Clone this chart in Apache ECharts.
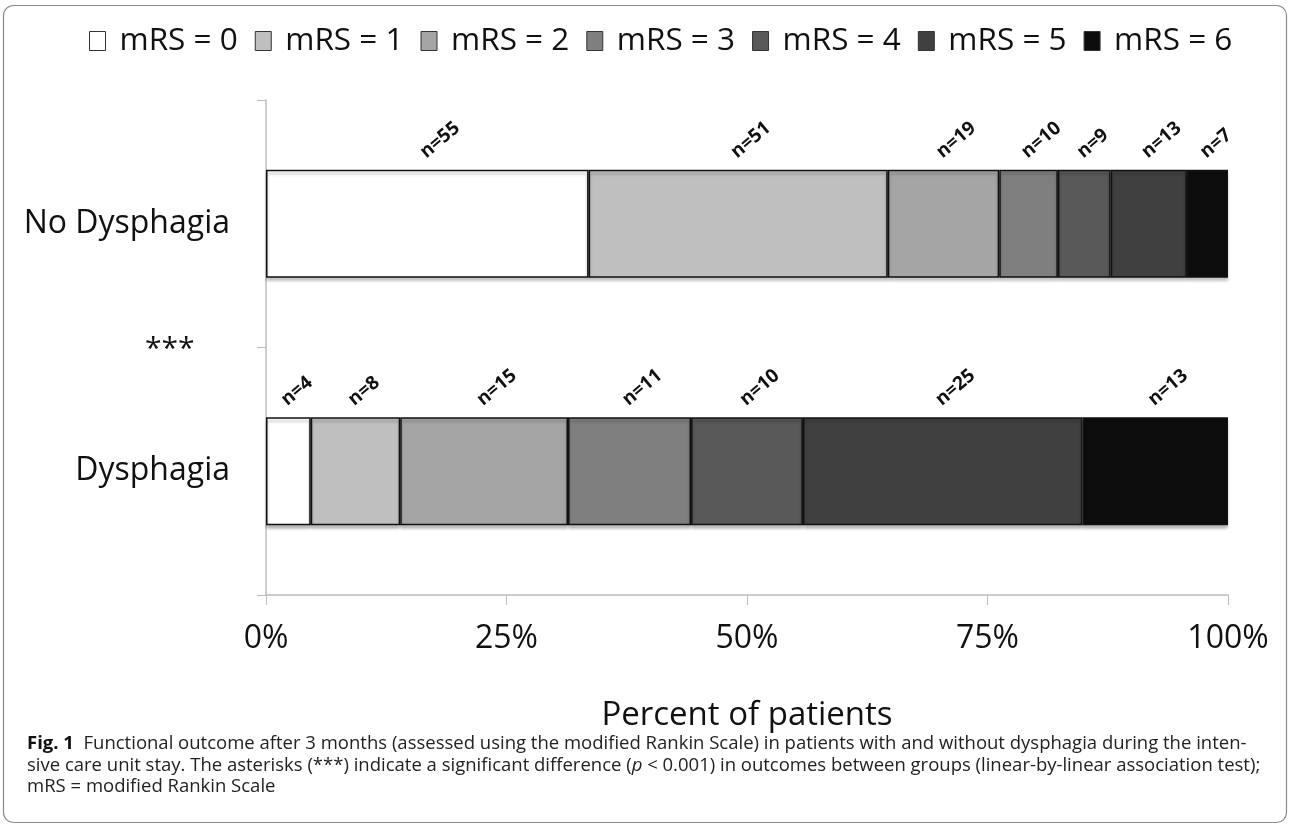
<!DOCTYPE html>
<html>
<head>
<meta charset="utf-8">
<script src="https://cdn.jsdelivr.net/npm/echarts@6/dist/echarts.min.js"></script>
<style>
html,body{margin:0;padding:0;background:#fff;}
#chart{width:1290px;height:826px;}
</style>
</head>
<body>
<div id="chart"></div>
<script>
const categories = ['No Dysphagia', 'Dysphagia'];
const legendNames = ['mRS = 0', 'mRS = 1', 'mRS = 2', 'mRS = 3', 'mRS = 4', 'mRS = 5', 'mRS = 6'];
const noDysphagiaCounts = [55, 51, 19, 10, 9, 13, 7];
const dysphagiaCounts = [4, 8, 15, 11, 10, 25, 13];
const tickValues = [0, 25, 50, 75, 100];
const colors = ['#ffffff', '#bfbfbf', '#a5a5a5', '#7f7f7f', '#595959', '#404040', '#0d0d0d'];

const groupCounts = [noDysphagiaCounts, dysphagiaCounts];
const totals = groupCounts.map(a => a.reduce((s, v) => s + v, 0));

const mainFont = '"Open Sans", "Noto Sans", sans-serif';
const capFont = '"Open Sans", "Noto Sans", sans-serif';

const series = legendNames.map((name, si) => ({
  name: name,
  type: 'bar',
  stack: 'total',
  barWidth: 108,
  data: groupCounts.map((arr, gi) => arr[si] / totals[gi] * 100),
  itemStyle: {
    color: colors[si],
    borderColor: '#111',
    borderWidth: 1.5,
    shadowColor: 'rgba(0,0,0,0.25)',
    shadowBlur: 3,
    shadowOffsetY: 3
  },
  label: {
    show: true,
    position: 'top',
    distance: 19,
    rotate: 40,
    align: 'left',
    verticalAlign: 'middle',
    offset: [-6, 0],
    fontFamily: mainFont,
    fontWeight: 'bold',
    fontSize: 19,
    color: '#111',
    formatter: p => 'n=' + groupCounts[p.dataIndex][si]
  },
  emphasis: { disabled: true }
}));

const chart = echarts.init(document.getElementById('chart'), null, { renderer: 'canvas' });
chart.setOption({
  animation: false,
  backgroundColor: '#fff',
  legend: {
    top: 20,
    left: 84,
    icon: 'rect',
    itemWidth: 16,
    itemHeight: 19,
    itemGap: 17,
    textStyle: { fontFamily: mainFont, fontSize: 31.5, color: '#111', padding: [0, 0, 0, 9] },
    itemStyle: { borderColor: '#333', borderWidth: 1, shadowBlur: 0, shadowOffsetY: 0 },
    data: legendNames
  },
  grid: { left: 266, right: 62, top: 100, bottom: 231 },
  xAxis: {
    type: 'value',
    min: 0,
    max: 100,
    interval: 25,
    name: 'Percent of patients',
    nameLocation: 'middle',
    nameGap: 104,
    nameTextStyle: { fontFamily: mainFont, fontSize: 33, color: '#111' },
    axisLine: { show: true, lineStyle: { color: '#bdbdbd', width: 1.5 } },
    axisTick: { show: true, length: 10, lineStyle: { color: '#bdbdbd' } },
    axisLabel: {
      margin: 28,
      fontFamily: mainFont,
      fontSize: 32,
      color: '#111',
      formatter: v => tickValues.includes(v) ? v + '%' : ''
    },
    splitLine: { show: false }
  },
  yAxis: {
    type: 'category',
    inverse: true,
    data: categories,
    axisLine: { show: true, lineStyle: { color: '#bdbdbd', width: 1.5 } },
    axisTick: { show: true, length: 9, lineStyle: { color: '#bdbdbd' } },
    axisLabel: { margin: 36, fontFamily: mainFont, fontSize: 32, color: '#111' }
  },
  graphic: [
    {
      type: 'rect',
      silent: true,
      z: -10,
      shape: { x: 3.5, y: 5.5, width: 1283, height: 817, r: 10 },
      style: { fill: 'none', stroke: '#8a8a8a', lineWidth: 1.2 }
    },
    {
      type: 'text',
      left: 145,
      top: 334,
      style: { text: '***', font: '30px ' + mainFont, fill: '#111' }
    },
    {
      type: 'text',
      left: 27,
      top: 733,
      style: {
        text: '{b|Fig. 1}  Functional outcome after 3 months (assessed using the modified Rankin Scale) in patients with and without dysphagia during the inten-\n' +
              'sive care unit stay. The asterisks (***) indicate a significant difference ({i|p} < 0.001) in outcomes between groups (linear-by-linear association test);\n' +
              'mRS = modified Rankin Scale',
        font: '18.5px ' + capFont,
        fill: '#222',
        lineHeight: 21.5,
        rich: {
          b: { font: 'bold 18.5px ' + capFont, fill: '#111', lineHeight: 21.5 },
          i: { font: 'italic 18.5px ' + capFont, fill: '#222', lineHeight: 21.5 }
        }
      }
    }
  ],
  series: series
});
</script>
</body>
</html>
